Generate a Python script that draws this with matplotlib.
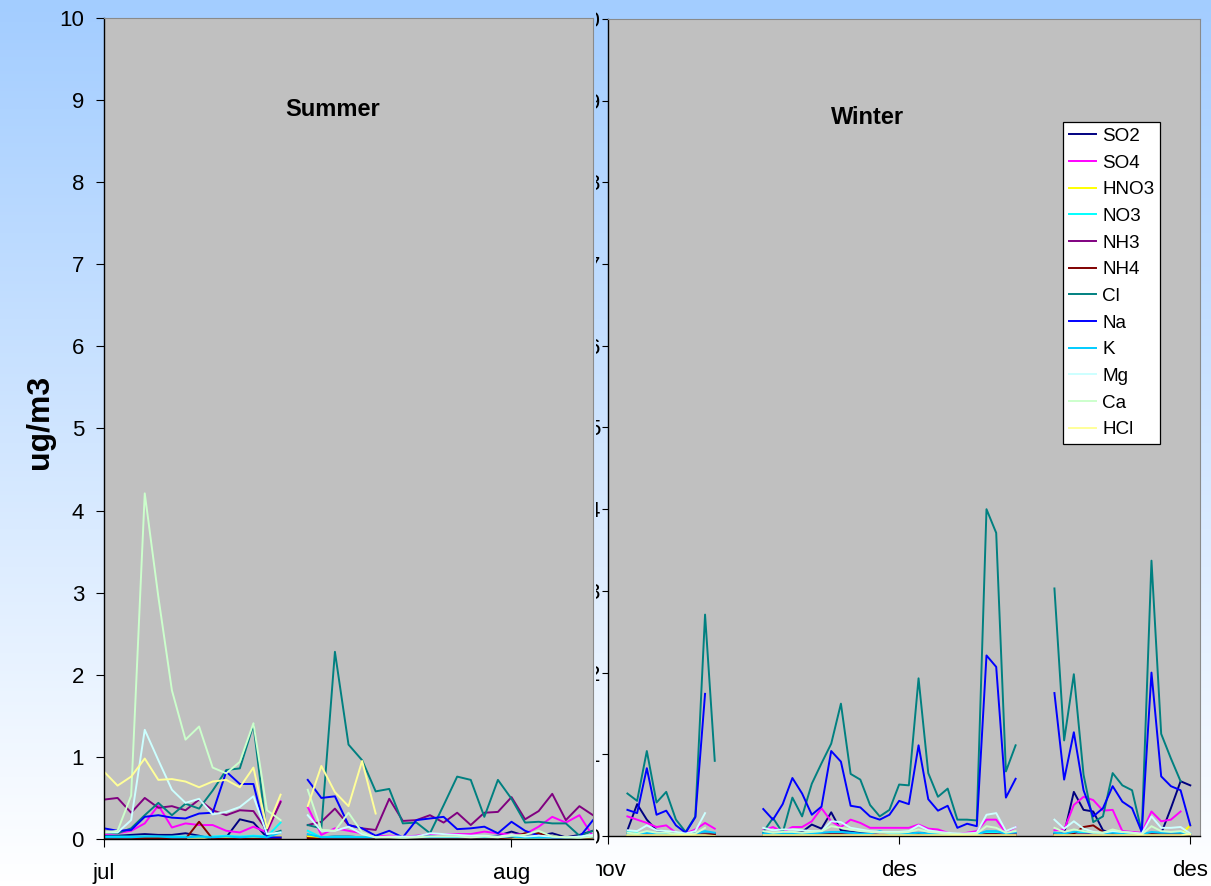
import numpy as np
import matplotlib
matplotlib.use('Agg')
import matplotlib.pyplot as plt
from matplotlib.colors import LinearSegmentedColormap

plt.rcParams['font.family'] = ['Liberation Sans', 'DejaVu Sans']

nan = np.nan

species = ['SO2', 'SO4', 'HNO3', 'NO3', 'NH3', 'NH4', 'Cl', 'Na', 'K', 'Mg', 'Ca', 'HCl']
colors = ['#000080', '#FF00FF', '#FFFF00', '#00FFFF', '#800080', '#800000',
          '#008080', '#0000FF', '#00CCFF', '#CCFFFF', '#CCFFCC', '#FFFF99']

# ---------------- Summer (daily, day 0 = 1 jul) ----------------
summer_days = list(range(37))
summer_tick_days = [0, 30]
summer_tick_labels = ['jul', 'aug']

so2_s = [0.04, 0.04, 0.05, 0.06, 0.05, 0.05, 0.07, 0.04, 0.0, 0.02, 0.24, 0.2, 0.02, 0.02, nan,
         0.03, 0.02, 0.03, 0.03, 0.02, 0.02, 0.03, 0.02, 0.03, 0.03, 0.02, 0.03, 0.02, 0.03, 0.04,
         0.09, 0.04, 0.04, 0.07, 0.02, 0.05, 0.1]
so4_s = [0.06, 0.07, 0.1, 0.19, 0.41, 0.14, 0.19, 0.17, 0.17, 0.1, 0.08, 0.15, 0.08, 0.46, nan,
         0.39, 0.05, 0.13, 0.1, 0.07, 0.03, 0.04, 0.03, 0.04, 0.06, 0.06, 0.06, 0.06, 0.09, 0.07,
         0.05, 0.06, 0.15, 0.27, 0.2, 0.29, 0.03]
hno3_s = [0.02, 0.02, 0.02, 0.02, 0.02, 0.02, 0.02, 0.02, 0.02, 0.02, 0.02, 0.03, 0.02, 0.03, nan,
          0.03, 0.02, 0.02, 0.02, 0.02, 0.02, 0.02, 0.02, 0.02, 0.02, 0.02, 0.02, 0.02, 0.02, 0.02,
          0.02, 0.02, 0.02, 0.03, 0.02, 0.02, 0.02]
no3_s = [0.03, 0.03, 0.03, 0.03, 0.03, 0.03, 0.03, 0.03, 0.03, 0.04, 0.03, 0.04, 0.03, 0.2, nan,
         0.1, 0.02, 0.03, 0.03, 0.02, 0.02, 0.02, 0.02, 0.03, 0.03, 0.02, 0.02, 0.02, 0.03, 0.02,
         0.03, 0.02, 0.02, 0.03, 0.02, 0.02, 0.03]
nh3_s = [0.48, 0.5, 0.32, 0.5, 0.38, 0.4, 0.35, 0.48, 0.35, 0.29, 0.35, 0.34, 0.1, 0.45, nan,
         0.17, 0.21, 0.37, 0.17, 0.13, 0.11, 0.49, 0.22, 0.23, 0.29, 0.2, 0.32, 0.17, 0.32, 0.33,
         0.51, 0.24, 0.34, 0.55, 0.23, 0.4, 0.29]
nh4_s = [0.01, 0.01, 0.01, 0.01, 0.01, 0.01, 0.0, 0.21, 0.0, 0.0, 0.0, 0.0, 0.0, 0.0, nan,
         0.01, 0.0, 0.01, 0.01, 0.01, 0.0, 0.0, 0.0, 0.0, 0.0, 0.01, 0.01, 0.01, 0.01, 0.01,
         0.02, 0.07, 0.07, 0.03, 0.02, 0.01, 0.02]
cl_s = [0.08, 0.07, 0.13, 0.29, 0.44, 0.29, 0.43, 0.37, 0.59, 0.84, 0.86, 1.39, 0.04, 0.1, nan,
        0.17, 0.13, 2.28, 1.15, 0.96, 0.58, 0.61, 0.19, 0.2, 0.07, 0.41, 0.76, 0.72, 0.27, 0.72,
        0.49, 0.2, 0.21, 0.19, 0.19, 0.04, 0.1]
na_s = [0.13, 0.1, 0.11, 0.27, 0.29, 0.26, 0.25, 0.31, 0.32, 0.82, 0.67, 0.67, 0.02, 0.02, nan,
        0.72, 0.5, 0.52, 0.17, 0.13, 0.04, 0.1, 0.02, 0.23, 0.25, 0.27, 0.12, 0.13, 0.15, 0.07,
        0.21, 0.1, 0.04, 0.02, 0.02, 0.02, 0.23]
k_s = [0.02, 0.02, 0.02, 0.03, 0.03, 0.02, 0.02, 0.03, 0.02, 0.03, 0.02, 0.03, 0.02, 0.08, nan,
       0.06, 0.02, 0.02, 0.02, 0.02, 0.02, 0.02, 0.02, 0.02, 0.02, 0.02, 0.02, 0.02, 0.02, 0.02,
       0.03, 0.02, 0.02, 0.02, 0.02, 0.02, 0.03]
mg_s = [0.08, 0.08, 0.23, 1.33, 0.96, 0.6, 0.44, 0.49, 0.3, 0.33, 0.39, 0.52, 0.06, 0.08, nan,
        0.29, 0.1, 0.1, 0.15, 0.06, 0.02, 0.03, 0.03, 0.03, 0.07, 0.06, 0.05, 0.04, 0.04, 0.03,
        0.05, 0.03, 0.04, 0.03, 0.02, 0.03, 0.05]
ca_s = [0.08, 0.1, 0.53, 4.21, 2.95, 1.81, 1.21, 1.37, 0.87, 0.8, 0.94, 1.41, 0.35, 0.23, nan,
        0.6, 0.11, 0.1, 0.32, 0.08, 0.02, 0.02, 0.01, 0.02, 0.03, 0.03, 0.03, 0.02, 0.03, 0.02,
        0.04, 0.05, 0.1, 0.03, 0.02, 0.01, 0.03]
hcl_s = [0.82, 0.65, 0.76, 0.98, 0.72, 0.73, 0.7, 0.63, 0.7, 0.72, 0.63, 0.87, 0.13, 0.54, nan,
         0.4, 0.89, 0.57, 0.4, 0.95, 0.31, nan, nan, nan, nan, nan, nan, nan, nan, nan,
         nan, nan, nan, nan, nan, nan, nan]

# ---------------- Winter (daily, day 0 = 3 nov) ----------------
winter_days = list(range(59))
winter_tick_days = [-2, 28, 58]
winter_tick_labels = ['nov', 'des', 'des']
G4 = [nan, nan, nan, nan]
G3 = [nan, nan, nan]

so2_w = ([0.07, 0.39, 0.2, 0.07, 0.05, 0.04, 0.03, 0.03, 0.03, 0.03] + G4 +
         [0.03, 0.03, 0.03, 0.03, 0.05, 0.14, 0.09, 0.29, 0.07, 0.05, 0.04, 0.03, 0.03, 0.03,
          0.03, 0.03, 0.03, 0.03, 0.03, 0.03, 0.02, 0.02, 0.02, 0.03, 0.03, 0.02, 0.03] + G3 +
         [0.03, 0.03, 0.54, 0.32, 0.3, 0.07, 0.03, 0.02, 0.02, 0.02, 0.02, 0.03, 0.34, 0.67, 0.62])
so4_w = ([0.24, 0.2, 0.16, 0.11, 0.13, 0.04, 0.03, 0.08, 0.16, 0.09] + G4 +
         [0.07, 0.11, 0.05, 0.11, 0.11, 0.18, 0.34, 0.18, 0.11, 0.2, 0.16, 0.1, 0.1, 0.1,
          0.1, 0.1, 0.14, 0.09, 0.08, 0.04, 0.02, 0.04, 0.06, 0.2, 0.2, 0.04, 0.11] + G3 +
         [0.07, 0.08, 0.38, 0.48, 0.44, 0.31, 0.32, 0.06, 0.05, 0.04, 0.3, 0.18, 0.2, 0.3, nan])
hno3_w = ([0.01, 0.01, 0.01, 0.01, 0.01, 0.01, 0.01, 0.01, 0.01, 0.0] + G4 +
          [0.01, 0.01, 0.01, 0.01, 0.01, 0.01, 0.01, 0.01, 0.01, 0.01, 0.01, 0.01, 0.01, 0.01,
           0.01, 0.01, 0.01, 0.01, 0.01, 0.01, 0.01, 0.01, 0.01, 0.01, 0.01, 0.01, 0.01] + G3 +
          [0.01, 0.01, 0.02, 0.02, 0.02, 0.01, 0.01, 0.01, 0.01, 0.01, 0.01, 0.01, 0.01, 0.02, 0.13])
no3_w = ([0.05, 0.04, 0.03, 0.02, 0.02, 0.02, 0.01, 0.02, 0.03, 0.02] + G4 +
         [0.03, 0.02, 0.02, 0.02, 0.02, 0.02, 0.02, 0.03, 0.03, 0.03, 0.02, 0.02, 0.02, 0.02,
          0.02, 0.02, 0.03, 0.02, 0.02, 0.02, 0.01, 0.01, 0.02, 0.04, 0.04, 0.02, 0.03] + G3 +
         [0.03, 0.02, 0.04, 0.04, 0.03, 0.02, 0.03, 0.02, 0.02, 0.02, 0.03, 0.03, 0.02, 0.02, 0.02])
nh3_w = ([0.03, 0.02, 0.02, 0.02, 0.02, 0.02, 0.01, 0.02, 0.02, 0.02] + G4 +
         [0.02, 0.02, 0.02, 0.02, 0.02, 0.02, 0.02, 0.02, 0.02, 0.02, 0.02, 0.02, 0.02, 0.02,
          0.02, 0.02, 0.02, 0.02, 0.02, 0.02, 0.01, 0.01, 0.01, 0.02, 0.02, 0.02, 0.02] + G3 +
         [0.02, 0.02, 0.02, 0.02, 0.02, 0.02, 0.02, 0.02, 0.02, 0.01, 0.02, 0.02, 0.02, 0.02, 0.02])
nh4_w = ([0.04, 0.02, 0.01, 0.01, 0.01, 0.01, 0.01, 0.01, 0.02, 0.02] + G4 +
         [0.01, 0.01, 0.01, 0.02, 0.01, 0.02, 0.02, 0.02, 0.02, 0.01, 0.01, 0.01, 0.01, 0.01,
          0.01, 0.01, 0.02, 0.01, 0.01, 0.01, 0.01, 0.01, 0.01, 0.02, 0.02, 0.01, 0.01] + G3 +
         [0.02, 0.02, 0.03, 0.11, 0.13, 0.05, 0.02, 0.02, 0.02, 0.02, 0.02, 0.02, 0.02, 0.02, 0.02])
cl_w = ([0.52, 0.43, 1.04, 0.41, 0.54, 0.2, 0.05, 0.24, 2.71, 0.92] + G4 +
        [0.05, 0.22, 0.04, 0.47, 0.24, 0.64, 0.89, 1.13, 1.62, 0.76, 0.69, 0.38, 0.24, 0.32,
         0.63, 0.62, 1.93, 0.77, 0.48, 0.58, 0.2, 0.2, 0.19, 4.0, 3.71, 0.79, 1.11] + G3 +
        [3.03, 1.17, 1.98, 0.75, 0.17, 0.24, 0.77, 0.62, 0.56, 0.05, 3.37, 1.25, 0.95, 0.67, nan])
na_w = ([0.32, 0.28, 0.83, 0.26, 0.31, 0.13, 0.04, 0.23, 1.74, nan] + G4 +
        [0.33, 0.2, 0.39, 0.71, 0.52, 0.26, 0.36, 1.04, 0.91, 0.37, 0.35, 0.24, 0.2, 0.26,
         0.43, 0.39, 1.11, 0.45, 0.31, 0.37, 0.1, 0.15, 0.12, 2.21, 2.07, 0.47, 0.7] + G3 +
        [1.75, 0.69, 1.27, 0.56, 0.24, 0.34, 0.61, 0.42, 0.34, 0.05, 2.0, 0.73, 0.61, 0.56, 0.13])
k_w = ([0.03, 0.02, 0.04, 0.03, 0.03, 0.02, 0.02, 0.03, 0.06, 0.04] + G4 +
       [0.03, 0.03, 0.03, 0.03, 0.03, 0.03, 0.04, 0.05, 0.05, 0.04, 0.03, 0.03, 0.06, 0.03,
        0.03, 0.03, 0.04, 0.03, 0.03, 0.02, 0.02, 0.02, 0.02, 0.06, 0.06, 0.03, 0.05] + G3 +
       [0.04, 0.03, 0.05, 0.06, 0.04, 0.03, 0.04, 0.03, 0.03, 0.02, 0.05, 0.04, 0.04, 0.04, 0.03])
mg_w = ([0.07, 0.06, 0.13, 0.07, 0.06, 0.05, 0.03, 0.06, 0.28, nan] + G4 +
        [0.1, 0.07, 0.08, 0.08, 0.07, 0.06, 0.06, 0.18, 0.17, 0.1, 0.08, 0.06, 0.05, 0.05,
         0.05, 0.06, 0.13, 0.07, 0.05, 0.04, 0.03, 0.03, 0.04, 0.26, 0.28, 0.06, 0.11] + G3 +
        [0.2, 0.09, 0.18, 0.09, 0.05, 0.04, 0.06, 0.05, 0.04, 0.03, 0.24, 0.1, 0.1, 0.11, 0.03])
ca_w = ([0.04, 0.03, 0.06, 0.04, 0.04, 0.03, 0.02, 0.03, 0.1, nan] + G4 +
        [0.06, 0.04, 0.05, 0.05, 0.04, 0.05, 0.06, 0.12, 0.1, 0.08, 0.06, 0.05, 0.04, 0.04,
         0.04, 0.05, 0.08, 0.05, 0.04, 0.03, 0.02, 0.03, 0.03, 0.12, 0.1, 0.04, 0.06] + G3 +
        [0.1, 0.05, 0.08, 0.06, 0.04, 0.04, 0.08, 0.05, 0.04, 0.02, 0.12, 0.06, 0.05, 0.06, 0.02])
hcl_w = ([0.01, 0.01, 0.01, 0.01, 0.01, 0.01, 0.01, 0.01, 0.01, 0.0] + G4 +
         [0.01, 0.01, 0.01, 0.01, 0.01, 0.01, 0.01, 0.01, 0.01, 0.01, 0.01, 0.01, 0.01, 0.01,
          0.01, 0.01, 0.01, 0.01, 0.01, 0.01, 0.01, 0.01, 0.01, 0.01, 0.01, 0.01, 0.01] + G3 +
         [0.01, 0.01, 0.01, 0.01, 0.01, 0.01, 0.01, 0.01, 0.01, 0.01, 0.01, 0.01, 0.01, 0.01, 0.02])

summer = [so2_s, so4_s, hno3_s, no3_s, nh3_s, nh4_s, cl_s, na_s, k_s, mg_s, ca_s, hcl_s]
winter = [so2_w, so4_w, hno3_w, no3_w, nh3_w, nh4_w, cl_w, na_w, k_w, mg_w, ca_w, hcl_w]

y_ticks = list(range(0, 11))

# ---------------- Figure ----------------
W, H = 1211, 886
fig = plt.figure(figsize=(W / 100, H / 100), dpi=100)
bg_cmap = LinearSegmentedColormap.from_list('bg', ['#A3CDFF', '#FFFFFF'])


def gradient_axes(rect, z):
    ax = fig.add_axes(rect, zorder=z)
    g = np.linspace(0, 1, 256).reshape(-1, 1)
    ax.imshow(g, aspect='auto', cmap=bg_cmap, extent=[0, 1, 0, 1], origin='upper',
              interpolation='bilinear')
    ax.set_xlim(0, 1)
    ax.set_ylim(0, 1)
    ax.set_axis_off()
    return ax


def px_rect(x0, y0, x1, y1):
    return [x0 / W, 1 - y1 / H, (x1 - x0) / W, (y1 - y0) / H]


def style_axes(ax):
    ax.set_facecolor('#C0C0C0')
    ax.spines['left'].set_color('black')
    ax.spines['bottom'].set_color('black')
    ax.spines['left'].set_linewidth(1.0)
    ax.spines['bottom'].set_linewidth(1.0)
    for s in ('top', 'right'):
        ax.spines[s].set_color('#8A8A8A')
        ax.spines[s].set_linewidth(0.8)
    ax.set_ylim(0, 10)
    ax.set_yticks(y_ticks)


gradient_axes([0, 0, 1, 1], 0)

# Winter panel (drawn below the left chart area)
axw = fig.add_axes(px_rect(608, 19, 1200, 836), zorder=1)
style_axes(axw)
lines_w = []
for vals, name, c in zip(winter, species, colors):
    ln, = axw.plot(winter_days, vals, color=c, lw=1.4, label=name)
    lines_w.append(ln)
axw.set_xlim(-2, 59)
axw.set_xticks(winter_tick_days)
axw.set_xticklabels(winter_tick_labels)
axw.tick_params(axis='y', direction='out', length=4.3, width=0.8, pad=1.5, labelsize=16)
axw.tick_params(axis='x', direction='out', length=5.5, width=0.8, pad=12, labelsize=16)

leg = axw.legend(handles=lines_w, loc='upper left',
                 bbox_to_anchor=(1063 / W, 1 - 122 / H), bbox_transform=fig.transFigure,
                 borderaxespad=0, borderpad=0.3, handlelength=1.45, handletextpad=0.32,
                 labelspacing=0.5, fontsize=13.6, frameon=True, fancybox=False,
                 framealpha=1, facecolor='white', edgecolor='black')
leg.get_frame().set_linewidth(0.9)

# Left chart background covering the winter axis labels
gradient_axes(px_rect(0, 0, 596, 886), 2)

# Summer panel
axs = fig.add_axes(px_rect(104, 18, 593, 839), zorder=3)
style_axes(axs)
for vals, name, c in zip(summer, species, colors):
    axs.plot(summer_days, vals, color=c, lw=1.4, label=name)
axs.set_xlim(0, 36)
axs.set_xticks(summer_tick_days)
axs.set_xticklabels(summer_tick_labels)
axs.tick_params(axis='y', direction='out', length=5.8, width=0.8, pad=8.6, labelsize=16)
axs.tick_params(axis='x', direction='out', length=5.5, width=0.8, pad=12, labelsize=16)

fig.text(40 / W, 1 - 422 / H, 'ug/m3', rotation=90, ha='center', va='center',
         fontsize=23, fontweight='bold', zorder=10)
fig.text(333 / W, 1 - 110 / H, 'Summer', ha='center', va='center',
         fontsize=17, fontweight='bold', zorder=10)
fig.text(868 / W, 1 - 117 / H, 'Winter', ha='center', va='center',
         fontsize=17, fontweight='bold', zorder=10)

fig.savefig('out.png', dpi=100)
